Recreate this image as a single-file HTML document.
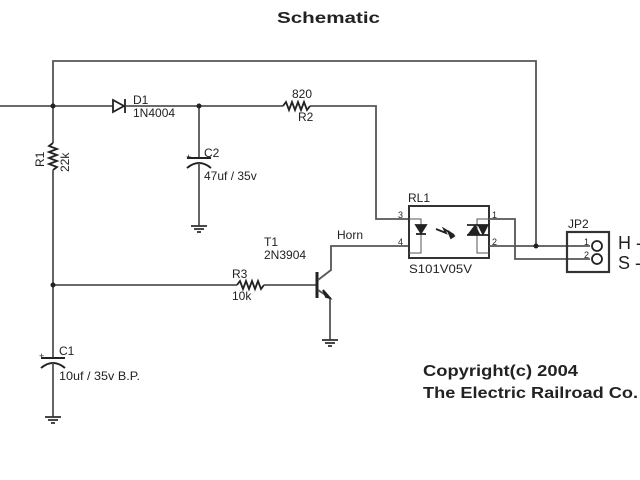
<!DOCTYPE html>
<html><head><style>
html,body{margin:0;padding:0;background:#fff;width:640px;height:480px;overflow:hidden}
svg{display:block}
text{font-family:"Liberation Sans",Arial,sans-serif;fill:#222}
</style></head><body>
<svg width="640" height="480" viewBox="0 0 640 480" xmlns="http://www.w3.org/2000/svg">
<g stroke="#555" stroke-width="1.8" fill="none">
<polyline points="53,106 53,61 536,61 536,246"/>
<line x1="0" y1="106" x2="113" y2="106"/>
<line x1="126" y1="106" x2="283" y2="106"/>
<polyline points="310,106 376,106 376,219 409,219"/>
<polygon points="113,100 113,112 124,106" stroke="#222"/>
<line x1="125" y1="99" x2="125" y2="113" stroke="#222"/>
<polyline points="283,106 286,102 289,110 292,102 295,110 298,102 301,110 304,102 307,110 310,106" stroke="#222"/>
<line x1="199" y1="106" x2="199" y2="158"/>
<line x1="187" y1="158" x2="211" y2="158" stroke="#222" stroke-width="2"/>
<path d="M187,168 Q199,158 211,168" stroke="#222" stroke-width="2"/>
<line x1="199" y1="163" x2="199" y2="226"/>
<line x1="53" y1="106" x2="53" y2="143"/>
<polyline points="53,143 49,146 57,149 49,152 57,155 49,158 57,161 49,164 57,167 53,170" stroke="#222"/>
<line x1="53" y1="170" x2="53" y2="357"/>
<line x1="53" y1="285" x2="237" y2="285"/>
<polyline points="237,285 240,281 243,289 246,281 249,289 252,281 255,289 258,281 261,289 264,285" stroke="#222"/>
<line x1="264" y1="285" x2="316" y2="285"/>
<line x1="317" y1="272" x2="317" y2="298" stroke="#222" stroke-width="3"/>
<polyline points="318,280 331,270 331,246 409,246"/>
<polyline points="318,290 330,298 330,340"/>
<polygon points="330,298 323,290 326,297" fill="#222" stroke="#222"/>
<line x1="41" y1="358" x2="65" y2="358" stroke="#222" stroke-width="2"/>
<path d="M41,368 Q53,358 65,368" stroke="#222" stroke-width="2"/>
<line x1="53" y1="363" x2="53" y2="417"/>
<rect x="409" y="206" width="80" height="52" stroke="#333" stroke-width="2"/>
<polyline points="409,219 421,219 421,253 409,253" stroke="#555" stroke-width="1"/>
<polyline points="489,219 477,219 477,253 489,253" stroke="#555" stroke-width="1"/>
<polygon points="416,225 426,225 421,233" fill="#222" stroke="#222"/>
<line x1="416" y1="234" x2="426" y2="234" stroke="#222"/>
<polyline points="436,229 446,233 444,229 454,235" stroke="#222"/>
<polygon points="454,236 448,231 451,238" fill="#222" stroke="#222"/>
<polygon points="469,234 475,226 479,234" fill="#222" stroke="#222"/>
<polygon points="479,226 483,234 487,226" fill="#222" stroke="#222"/>
<line x1="467" y1="225" x2="489" y2="225" stroke="#222"/>
<line x1="467" y1="235" x2="489" y2="235" stroke="#222"/>
<polyline points="489,219 515,219 515,259 590,259"/>
<line x1="489" y1="246" x2="590" y2="246"/>
<rect x="567" y="232" width="42" height="40" stroke="#333" stroke-width="2.2"/>
<circle cx="597" cy="246" r="5" stroke="#222"/>
<circle cx="597" cy="259" r="5" stroke="#222"/>
</g>
<g stroke="#333" stroke-width="1.8">
<line x1="191" y1="226" x2="207" y2="226"/><line x1="194" y1="229" x2="204" y2="229"/><line x1="197" y1="232" x2="201" y2="232"/>
<line x1="322" y1="340" x2="338" y2="340"/><line x1="325" y1="343" x2="335" y2="343"/><line x1="328" y1="346" x2="332" y2="346"/>
<line x1="45" y1="417" x2="61" y2="417"/><line x1="48" y1="420" x2="58" y2="420"/><line x1="51" y1="423" x2="55" y2="423"/>
</g>
<g fill="#222">
<circle cx="53" cy="106" r="2.5"/><circle cx="199" cy="106" r="2.5"/><circle cx="53" cy="285" r="2.5"/><circle cx="536" cy="246" r="2.5"/>
</g>
<text x="277" y="23" font-size="16" font-weight="bold" textLength="103" lengthAdjust="spacingAndGlyphs" fill="#111">Schematic</text>
<g font-size="12">
<text x="133" y="104">D1</text><text x="133" y="117">1N4004</text>
<text x="292" y="98">820</text><text x="298" y="121">R2</text>
<text x="204" y="157">C2</text><text x="204" y="180">47uf / 35v</text>
<text x="186" y="160" font-size="9">+</text>
<text x="39" y="359" font-size="9">+</text>
<text x="59" y="355">C1</text><text x="59" y="380" textLength="81" lengthAdjust="spacingAndGlyphs">10uf / 35v B.P.</text>
<text transform="translate(44,167) rotate(-90)">R1</text>
<text transform="translate(69,172) rotate(-90)">22k</text>
<text x="232" y="278">R3</text><text x="232" y="300">10k</text>
<text x="264" y="246">T1</text><text x="264" y="259">2N3904</text>
<text x="337" y="239">Horn</text>
<text x="408" y="202">RL1</text>
<text x="409" y="273" textLength="63" lengthAdjust="spacingAndGlyphs">S101V05V</text>
<text x="568" y="228">JP2</text>
<text x="398" y="218" font-size="9">3</text><text x="398" y="245" font-size="9">4</text>
<text x="492" y="218" font-size="9">1</text><text x="492" y="245" font-size="9">2</text>
<text x="584" y="245" font-size="9">1</text><text x="584" y="258" font-size="9">2</text>
</g>
<text x="618" y="249" font-size="18">H -</text>
<text x="618" y="269" font-size="18">S -</text>
<text x="423" y="376" font-size="16" font-weight="bold" textLength="155" lengthAdjust="spacingAndGlyphs" fill="#111">Copyright(c) 2004</text>
<text x="423" y="398" font-size="16" font-weight="bold" textLength="215" lengthAdjust="spacingAndGlyphs" fill="#111">The Electric Railroad Co.</text>
</svg>
</body></html>
